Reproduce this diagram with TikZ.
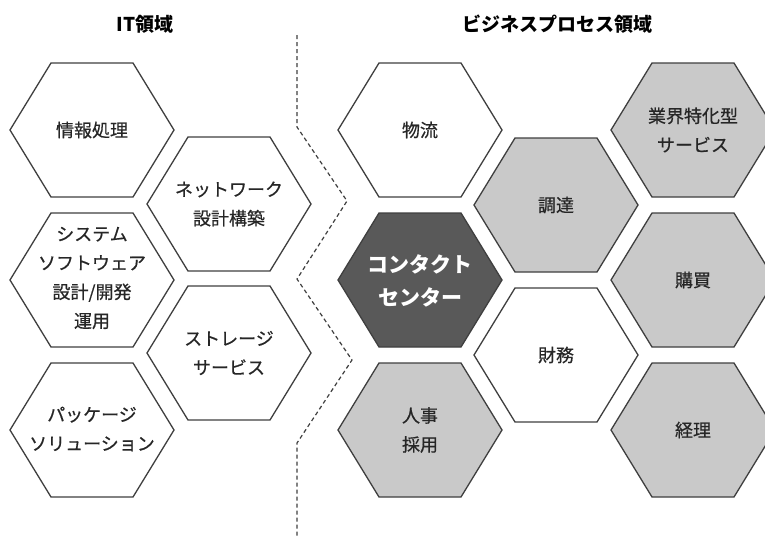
\documentclass[tikz,border=0pt]{standalone}
\usepackage{fontspec}
\setmainfont{Noto Sans CJK JP}
\newfontfamily\medfont[FakeBold=0.5]{Noto Sans CJK JP}
\definecolor{hexedge}{HTML}{3F3F3F}
\definecolor{lightfill}{HTML}{C9C9C9}
\definecolor{darkfill}{HTML}{595959}
\definecolor{txt}{HTML}{262626}
\tikzset{
  hexline/.style={draw=hexedge, line width=1.3pt, line join=miter},
  hextext/.style={align=center, text=txt, font=\medfont\fontsize{18}{29}\selectfont, inner sep=0pt},
  hexbold/.style={align=center, text=white, font=\fontsize{21}{33}\selectfont\bfseries, inner sep=0pt},
  title/.style={text=black, font=\fontsize{19}{22}\selectfont\bfseries, inner sep=0pt},
  divider/.style={draw=hexedge, line width=1.2pt, dash pattern=on 4pt off 3pt}
}
\newcommand\hexa[3]{%
  \path[hexline, fill=#3] (#1-82,#2) -- (#1-41,#2-67) -- (#1+41,#2-67) -- (#1+82,#2) -- (#1+41,#2+67) -- (#1-41,#2+67) -- cycle;}
\begin{document}
\begin{tikzpicture}[x=1pt, y=-1pt]
\path[use as bounding box, fill=white] (0,0) rectangle (765,541);
\clip (0,0) rectangle (765,541);
% titles
\node[title] (tIT) at (145,24) {IT領域};
\node[title] (tBP) at (557,24) {ビジネスプロセス領域};
% IT hexagons
\hexa{92}{130}{white}
\hexa{92}{280}{white}
\hexa{92}{430}{white}
\hexa{229}{204}{white}
\hexa{229}{353}{white}
% business hexagons
\hexa{420}{130}{white}
\hexa{420}{280}{darkfill}
\hexa{420}{430}{lightfill}
\hexa{556}{205}{lightfill}
\hexa{556}{355}{white}
\hexa{693}{130}{lightfill}
\hexa{693}{280}{lightfill}
\hexa{693}{430}{lightfill}
% labels
\node[hextext] (info) at (92,130) {情報処理};
\node[hextext] (sys) at (92,278) {システム\\ソフトウェア\\設計/開発\\運用};
\node[hextext] (pkg) at (92,429) {パッケージ\\ソリューション};
\node[hextext] (net) at (229,204) {ネットワーク\\設計構築};
\node[hextext] (stor) at (229,353) {ストレージ\\サービス};
\node[hextext] (logi) at (420,130) {物流};
\node[hexbold] (cc) at (420,281) {コンタクト\\センター};
\node[hextext] (hr) at (420,430) {人事\\採用};
\node[hextext] (proc) at (556,205) {調達};
\node[hextext] (fin) at (556,355) {財務};
\node[hextext] (ind) at (693,130) {業界特化型\\サービス};
\node[hextext] (buy) at (693,280) {購買};
\node[hextext] (acc) at (693,430) {経理};
% divider
\coordinate (d0) at (297,35);
\coordinate (d1) at (297,127);
\coordinate (d2) at (347,201);
\coordinate (d3) at (297,279);
\coordinate (d4) at (352,360);
\coordinate (d5) at (297,443);
\coordinate (d6) at (297,537);
\draw[divider] (d0) -- (d1) -- (d2) -- (d3) -- (d4) -- (d5) -- (d6);
\end{tikzpicture}
\end{document}
